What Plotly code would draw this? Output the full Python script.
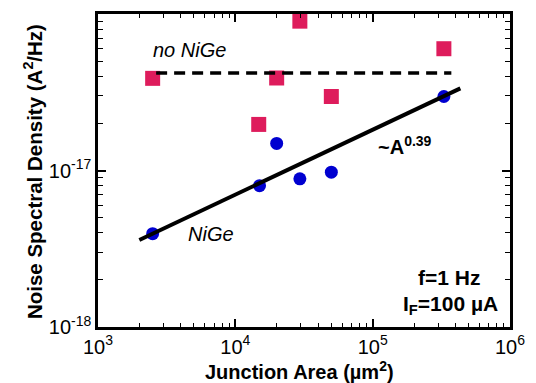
import plotly.graph_objects as go

no_nige_x = [2.5e3, 1.48e4, 2.0e4, 2.95e4, 5.0e4, 3.3e5]
no_nige_y = [3.88e-17, 1.97e-17, 3.9e-17, 9.0e-17, 2.97e-17, 6.0e-17]
nige_x = [2.5e3, 1.5e4, 2.0e4, 2.95e4, 5.0e4, 3.3e5]
nige_y = [3.95e-18, 8.0e-18, 1.49e-17, 8.85e-18, 9.75e-18, 2.97e-17]
fit_x = [2.0e3, 4.35e5]
fit_y = [3.6e-18, 3.35e-17]
flat_x = [2.65e3, 3.74e5]
flat_y = [4.19e-17, 4.19e-17]
x_ticks = [1e3, 1e4, 1e5, 1e6]
x_labels = ["10<sup>3</sup>", "10<sup>4</sup>", "10<sup>5</sup>", "10<sup>6</sup>"]
y_ticks = [1e-18, 1e-17, 1e-16]
y_labels = ["10<sup>-18</sup>", "10<sup>-17</sup>", ""]

x_minor = [m * d for d in x_ticks[:-1] for m in range(2, 10)]
y_minor = [m * d for d in y_ticks[:-1] for m in range(2, 10)]

W, H = 536, 383
L, R, T, B = 98, 22, 11, 56
F = "Liberation Sans, Arial, sans-serif"
fig = go.Figure()
fig.add_trace(go.Scatter(x=no_nige_x, y=no_nige_y, mode="markers",
                         marker=dict(symbol="square", size=15, color="#DE1C5C")))
fig.add_trace(go.Scatter(x=nige_x, y=nige_y, mode="markers",
                         marker=dict(symbol="circle", size=13, color="#0000D0")))
fig.add_trace(go.Scatter(x=fit_x, y=fit_y, mode="lines", line=dict(color="black", width=4)))
fig.add_trace(go.Scatter(x=flat_x, y=flat_y, mode="lines", line=dict(color="black", width=3.5, dash="11px,7px")))

ax = dict(type="log", showline=True, linecolor="black", linewidth=2.5, mirror="ticks",
          ticks="inside", ticklen=8, tickwidth=1.5, tickcolor="black", showgrid=False, zeroline=False,
          tickfont=dict(family=F, size=20, color="black"))
fig.update_xaxes(**ax, range=[3, 6], tickmode="array", tickvals=x_ticks, ticktext=x_labels,
                 minor=dict(tickmode="array", tickvals=x_minor, ticks="inside", ticklen=4,
                            tickwidth=1, tickcolor="black", showgrid=False))
fig.update_yaxes(**ax, range=[-18, -16], tickmode="array", tickvals=y_ticks, ticktext=y_labels,
                 minor=dict(tickmode="array", tickvals=y_minor, ticks="inside", ticklen=5,
                            tickwidth=1, tickcolor="black", showgrid=False))

anns = [
    dict(x=190, y=47, text="<i>no NiGe</i>", size=20),
    dict(x=212, y=233, text="<i>NiGe</i>", size=20),
    dict(x=408, y=144, text="<b>~A<sup>0.39</sup></b>", size=20),
    dict(x=452, y=277, text="<b>f=1 Hz</b>", size=21),
    dict(x=454, y=305, text="<b>I<sub>F</sub>=100 µA</b>", size=21),
    dict(x=301, y=371, text="<b>Junction Area (µm<sup>2</sup>)</b>", size=20),
]
pw, ph = W - L - R, H - T - B
for a in anns:
    fig.add_annotation(x=(a["x"] - L) / pw, y=1 - (a["y"] - T) / ph, xref="paper", yref="paper",
                       text=a["text"], showarrow=False, xanchor="center", yanchor="middle",
                       font=dict(family=F, size=a["size"], color="black"))
fig.add_annotation(x=(33 - L) / pw, y=1 - (170 - T) / ph, xref="paper", yref="paper",
                   text="<b>Noise Spectral Density (A<sup>2</sup>/Hz)</b>", textangle=-90,
                   showarrow=False, xanchor="center", yanchor="middle",
                   font=dict(family=F, size=20.5, color="black"))

fig.update_layout(width=W, height=H, margin=dict(l=L, r=R, t=T, b=B),
                  paper_bgcolor="white", plot_bgcolor="white", showlegend=False)
fig.write_html("out.html")
